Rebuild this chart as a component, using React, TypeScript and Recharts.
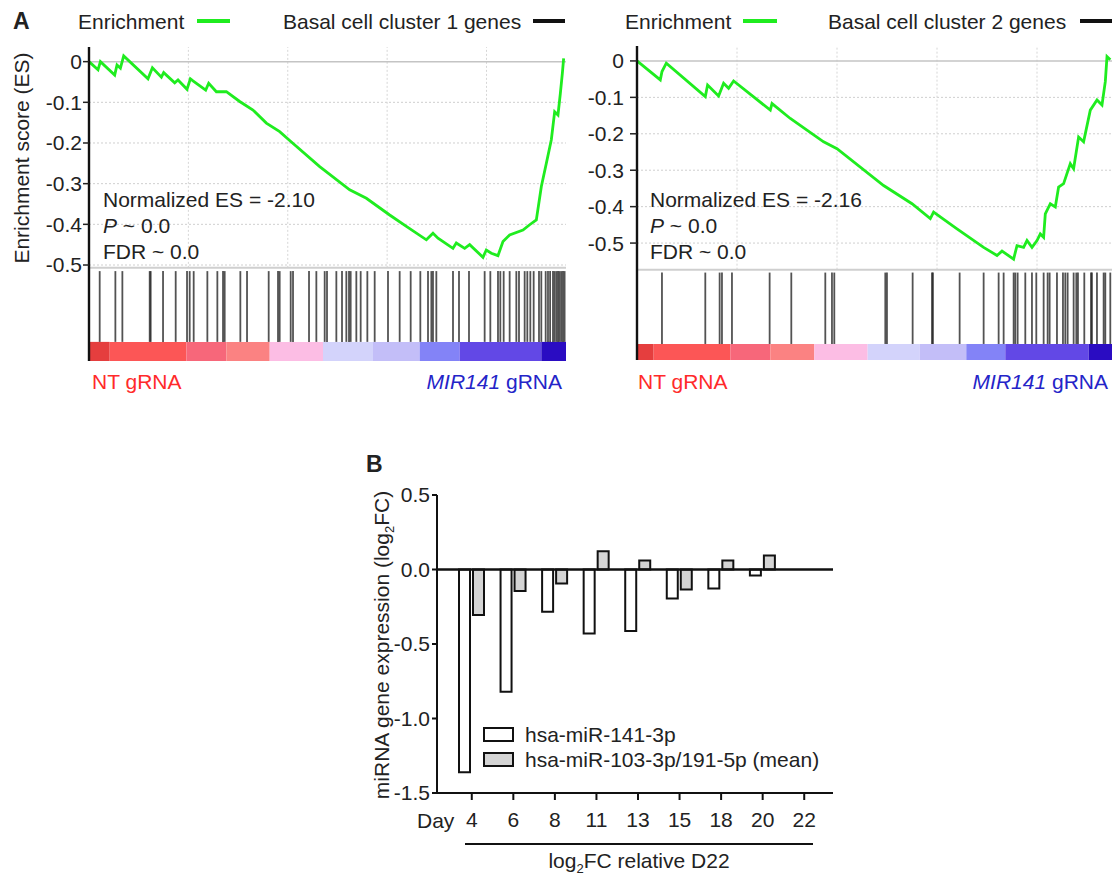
import React from 'react';
import { ComposedChart, Line, XAxis, YAxis, ReferenceLine, ReferenceArea, BarChart, Bar } from 'recharts';

const FONT = '"Liberation Sans", Arial, Helvetica, sans-serif';
const INK = '#222';

// ---- Panel A, cluster 1 : running enrichment score along the ranked list
const c1Rank = [0, 453, 573, 1293, 1409, 1580, 1746, 2968, 3190, 3642, 3758, 4312, 4478, 4930, 5100, 5232, 5871, 6022, 6409, 6912, 7582, 8251, 8924, 9594, 10097, 11607, 13116, 13955, 15128, 15968, 16974, 17307, 17559, 18313, 18481, 18901, 19153, 19822, 19990, 20242, 20577, 20829, 21165, 21835, 22172, 22507, 22759, 23011, 23262, 23430, 23596, 23716, 23816, 23882];
const c1Score = [0, -0.02, 0, -0.033, -0.008, -0.016, 0.014, -0.042, -0.015, -0.038, -0.027, -0.052, -0.045, -0.068, -0.042, -0.047, -0.07, -0.053, -0.074, -0.074, -0.098, -0.119, -0.151, -0.172, -0.194, -0.258, -0.315, -0.336, -0.377, -0.405, -0.438, -0.422, -0.434, -0.459, -0.446, -0.459, -0.45, -0.481, -0.463, -0.471, -0.477, -0.442, -0.426, -0.414, -0.401, -0.389, -0.307, -0.25, -0.192, -0.123, -0.131, -0.078, -0.029, 0.008];
const c1Hits = [538, 1327, 1679, 3054, 3104, 3725, 4362, 4932, 5066, 5267, 5955, 6458, 6743, 6827, 7615, 7951, 9041, 9510, 9594, 10148, 10265, 11070, 11439, 11858, 11975, 12445, 12730, 12948, 13082, 13166, 13451, 13669, 14005, 14374, 15044, 15631, 16185, 16671, 17057, 17225, 17308, 17476, 18314, 18616, 19119, 19907, 20193, 20578, 20696, 20864, 21165, 21501, 21635, 21920, 22054, 22205, 22373, 22641, 22758, 22977, 23094, 23200, 23345, 23429, 23520, 23600, 23681, 23765, 23849, 23930];
const c1Bands = [0, 1041, 4899, 6911, 9091, 11774, 14290, 16638, 18650, 22758, 24000];

// ---- Panel A, cluster 2
const c2Rank = [0, 1165, 1250, 1465, 3415, 3530, 4080, 4330, 4580, 4830, 6665, 6750, 7665, 9330, 10000, 12330, 13750, 14665, 14830, 16000, 17330, 18000, 18250, 18830, 19000, 19330, 19500, 19750, 20000, 20165, 20330, 20415, 20665, 20915, 21080, 21330, 21665, 21830, 22080, 22330, 22665, 23000, 23250, 23415, 23500, 23665];
const c2Score = [0, -0.052, -0.029, -0.006, -0.098, -0.066, -0.096, -0.061, -0.075, -0.055, -0.135, -0.117, -0.158, -0.222, -0.241, -0.342, -0.392, -0.433, -0.415, -0.461, -0.512, -0.534, -0.522, -0.544, -0.507, -0.512, -0.493, -0.512, -0.493, -0.475, -0.484, -0.42, -0.392, -0.401, -0.346, -0.337, -0.282, -0.296, -0.209, -0.222, -0.135, -0.107, -0.121, -0.057, 0.012, 0.003];
const c2Hits = [1248, 3415, 4132, 4248, 4748, 6632, 7715, 9415, 9748, 9865, 12415, 12498, 13782, 14748, 14798, 16132, 17332, 18082, 18332, 18832, 18915, 19032, 19415, 19748, 19965, 20332, 20532, 20632, 20998, 21298, 21415, 21532, 21832, 21965, 22048, 22365, 22698, 22748, 22998, 23332, 23415, 23665];
const c2Bands = [0, 832, 4665, 6665, 8865, 11532, 14132, 16465, 18415, 22582, 24000];

const esTicks = [0, -0.1, -0.2, -0.3, -0.4, -0.5];
const rankGrid = [5000, 10000, 15000, 20000];
const bandColors = ['#e53e3e', '#fc5656', '#f7677a', '#fb8282', '#fcbde4', '#d3d3fb', '#c3bef8', '#8383f7', '#6248e6', '#2a0cc2'];

// ---- Panel B
const days = ['4', '6', '8', '11', '13', '15', '18', '20', '22'];
const mir141 = [-1.36, -0.82, -0.283, -0.43, -0.412, -0.194, -0.127, -0.04, null];
const mir103191 = [-0.305, -0.145, -0.094, 0.122, 0.06, -0.134, 0.06, 0.094, null];
const bTicks = [-1.5, -1, -0.5, 0, 0.5];

type GseaProps = {
  left: number; width: number; top: number; bottom: number; marginLeft: number; marginRight: number;
  yWidth: number; tickSize: number; tickMargin: number;
  yMin: number; yMax: number; sepY: number; barTop: number;
  rank: number[]; score: number[]; hits: number[]; bands: number[];
};

const frameLine = { stroke: '#111', strokeWidth: 2.4 };

function GseaPanel(p: GseaProps) {
  const rows = p.rank.map((r, i) => ({ rank: r, es: p.score[i] }));
  return (
    <div style={{ position: 'absolute', left: p.left, top: 0 }}>
      <ComposedChart width={p.width} height={400} data={rows}
        margin={{ top: p.top, right: p.marginRight, bottom: 400 - p.bottom, left: p.marginLeft }}>
        <XAxis xAxisId="b" dataKey="rank" type="number" domain={[0, 24000]} height={0}
          tick={false} tickLine={false} axisLine={frameLine} />
        <XAxis xAxisId="t" orientation="top" dataKey="rank" type="number" domain={[0, 24000]} height={0}
          tick={false} tickLine={false} axisLine={frameLine} />
        <YAxis yAxisId="l" type="number" domain={[p.yMin, p.yMax]} ticks={esTicks} interval={0} width={p.yWidth}
          axisLine={frameLine} tickSize={p.tickSize} tickMargin={p.tickMargin}
          tickLine={{ stroke: INK, strokeWidth: 1.5 }}
          tick={{ fontSize: 21, fill: INK, fontFamily: FONT }}
          tickFormatter={(v: number) => (v === 0 ? '0' : v.toFixed(1))} />
        <YAxis yAxisId="r" orientation="right" type="number" domain={[p.yMin, p.yMax]} width={0}
          tick={false} tickLine={false} axisLine={frameLine} />
        {esTicks.slice(1).map((t) => (
          <ReferenceLine key={'h' + t} xAxisId="b" yAxisId="l" y={t} stroke="#cfcfcf" strokeDasharray="2 2" strokeWidth={1} />
        ))}
        {rankGrid.map((g) => (
          <ReferenceLine key={'v' + g} xAxisId="b" yAxisId="l" segment={[{ x: g, y: p.sepY }, { x: g, y: p.yMax }]}
            stroke="#d6d6d6" strokeDasharray="2 2" strokeWidth={1} />
        ))}
        <ReferenceLine xAxisId="b" yAxisId="l" y={0} stroke="#c4c4c4" strokeWidth={1.5} />
        <ReferenceLine xAxisId="b" yAxisId="l" y={p.sepY} stroke="#cfcfcf" strokeWidth={2} />
        {p.bands.slice(0, -1).map((b, i) => (
          <ReferenceArea key={'b' + i} xAxisId="b" yAxisId="l" x1={b} x2={p.bands[i + 1]} y1={p.yMin} y2={p.barTop}
            fill={bandColors[i]} fillOpacity={1} stroke="none" />
        ))}
        {p.hits.map((h, i) => (
          <ReferenceLine key={'g' + i} xAxisId="b" yAxisId="l" segment={[{ x: h, y: p.sepY - 0.008 }, { x: h, y: p.barTop }]}
            stroke="#1a1a1a" strokeOpacity={0.75} strokeWidth={1.8} />
        ))}
        <Line xAxisId="b" yAxisId="l" dataKey="es" type="linear" stroke="#1fec1f" strokeWidth={2.8} dot={false} isAnimationActive={false} />
      </ComposedChart>
    </div>
  );
}

function txt(x: number, yc: number, extra: React.CSSProperties = {}): React.CSSProperties {
  return { position: 'absolute', left: x, top: yc - 11, fontSize: 21, lineHeight: '21px', whiteSpace: 'nowrap', color: INK, ...extra };
}
function txtRight(xEnd: number, yc: number, extra: React.CSSProperties = {}): React.CSSProperties {
  return { position: 'absolute', right: 1112 - xEnd, top: yc - 11, fontSize: 21, lineHeight: '21px', whiteSpace: 'nowrap', ...extra };
}
function dash(x1: number, x2: number, y: number, color: string): React.CSSProperties {
  return { position: 'absolute', left: x1, width: x2 - x1, top: y - 2, height: 4, background: color };
}
function Sub() {
  return <span style={{ fontSize: 13, position: 'relative', top: 5 }}>2</span>;
}

function PanelB() {
  const bRows = days.map((d, i) => ({ day: d, mir141: mir141[i], ref103: mir103191[i] }));
  return (
    <div style={{ position: 'absolute', left: 340, top: 470 }}>
      <BarChart width={510} height={380} data={bRows} margin={{ top: 25, right: 17, bottom: 27, left: 37 }} barGap={3} barSize={11}>
        <XAxis dataKey="day" interval={0} height={30} padding={{ left: 14, right: 8 }}
          tickSize={7} tickMargin={12}
          axisLine={{ stroke: '#111', strokeWidth: 2 }} tickLine={{ stroke: '#111', strokeWidth: 2 }}
          tick={{ fontSize: 21, fill: INK, fontFamily: FONT }} />
        <YAxis type="number" domain={[-1.5, 0.5]} ticks={bTicks} interval={0} width={60}
          tickSize={5} tickMargin={2}
          axisLine={{ stroke: '#111', strokeWidth: 2 }} tickLine={{ stroke: '#111', strokeWidth: 2 }}
          tick={{ fontSize: 21, fill: INK, fontFamily: FONT }}
          tickFormatter={(v: number) => v.toFixed(1)} />
        <Bar dataKey="mir141" fill="#ffffff" stroke="#111" strokeWidth={2} isAnimationActive={false} />
        <Bar dataKey="ref103" fill="#d4d4d4" stroke="#111" strokeWidth={2} isAnimationActive={false} />
        <ReferenceLine y={0} stroke="#111" strokeWidth={2.5} />
      </BarChart>
    </div>
  );
}

export default function App() {
  const legendItems = [
    { label: 'hsa-miR-141-3p', fill: '#ffffff' },
    { label: 'hsa-miR-103-3p/191-5p (mean)', fill: '#d4d4d4' },
  ];
  return (
    <div style={{ position: 'absolute', left: 0, top: 0, width: 1112, height: 876, overflow: 'hidden', background: '#fff', fontFamily: FONT, color: INK }}>
      {/* panel A header */}
      <div style={txt(13, 22, { fontWeight: 700, fontSize: 23 })}>A</div>
      <div style={txt(78, 22)}>Enrichment</div>
      <div style={dash(197, 230, 21, '#1fec1f')} />
      <div style={txt(283, 22)}>Basal cell cluster 1 genes</div>
      <div style={dash(533, 565, 21, '#111')} />
      <div style={txt(625, 22)}>Enrichment</div>
      <div style={dash(743, 777, 21, '#1fec1f')} />
      <div style={txt(828, 22)}>Basal cell cluster 2 genes</div>
      <div style={dash(1080, 1112, 21, '#111')} />

      <div style={{ position: 'absolute', left: 22, top: 158, transform: 'translate(-50%, -50%) rotate(-90deg)', fontSize: 21, whiteSpace: 'nowrap' }}>
        Enrichment score (ES)
      </div>

      <GseaPanel left={0} width={580} top={47} bottom={361} marginLeft={30} marginRight={14} yWidth={59}
        tickSize={6} tickMargin={1} yMin={-0.736} yMax={0.036} sepY={-0.507} barTop={-0.689}
        rank={c1Rank} score={c1Score} hits={c1Hits} bands={c1Bands} />
      <GseaPanel left={560} width={560} top={46} bottom={360} marginLeft={10} marginRight={3} yWidth={67}
        tickSize={7} tickMargin={6} yMin={-0.821} yMax={0.041} sepY={-0.573} barTop={-0.777}
        rank={c2Rank} score={c2Score} hits={c2Hits} bands={c2Bands} />

      <div style={txt(103, 200)}>Normalized ES = -2.10</div>
      <div style={txt(103, 226)}><i>P</i> ~ 0.0</div>
      <div style={txt(103, 252)}>FDR ~ 0.0</div>
      <div style={txt(650, 200)}>Normalized ES = -2.16</div>
      <div style={txt(650, 226)}><i>P</i> ~ 0.0</div>
      <div style={txt(650, 252)}>FDR ~ 0.0</div>

      <div style={txt(92, 382, { color: '#ff2a2a' })}>NT gRNA</div>
      <div style={txtRight(562, 382, { color: '#2424c8' })}><i>MIR141</i> gRNA</div>
      <div style={txt(638, 382, { color: '#ff2a2a' })}>NT gRNA</div>
      <div style={txtRight(1108, 382, { color: '#2424c8' })}><i>MIR141</i> gRNA</div>

      {/* panel B */}
      <div style={txt(366, 465, { fontWeight: 700, fontSize: 23 })}>B</div>
      <div style={{ position: 'absolute', left: 382, top: 645, transform: 'translate(-50%, -50%) rotate(-90deg)', fontSize: 21, whiteSpace: 'nowrap' }}>
        miRNA gene expression (log<Sub />FC)
      </div>
      <PanelB />
      {legendItems.map((it, i) => (
        <div key={it.label} style={{ position: 'absolute', left: 483, top: 722 + i * 25, height: 25, display: 'flex', alignItems: 'center', fontSize: 21, whiteSpace: 'nowrap' }}>
          <span style={{ display: 'inline-block', width: 27, height: 11, border: '2px solid #111', background: it.fill, marginRight: 11 }} />
          {it.label}
        </div>
      ))}
      <div style={txt(417, 821)}>Day</div>
      <div style={{ position: 'absolute', left: 465, width: 348, top: 843, height: 1.5, background: '#111' }} />
      <div style={{ position: 'absolute', left: 465, width: 348, top: 850, textAlign: 'center', fontSize: 21, lineHeight: '21px', whiteSpace: 'nowrap' }}>
        log<Sub />FC relative D22
      </div>
    </div>
  );
}
